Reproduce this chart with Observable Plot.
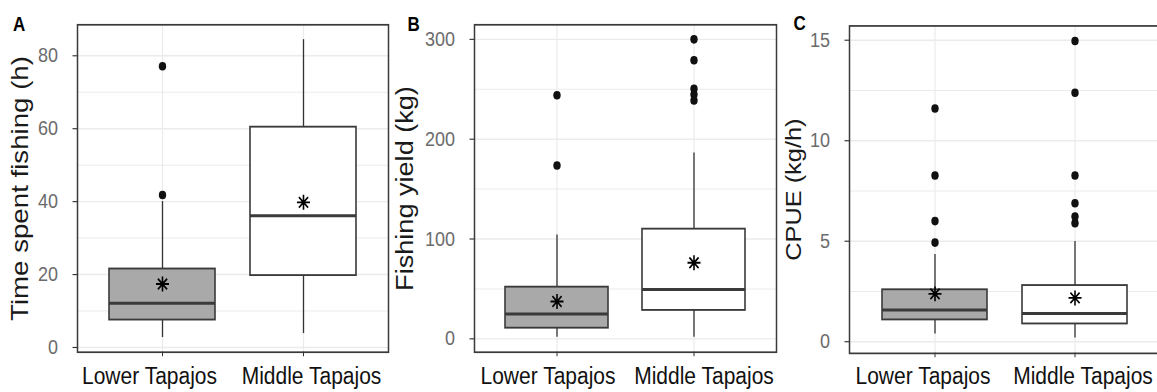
<!DOCTYPE html>
<html>
<head>
<meta charset="utf-8">
<script src="https://cdn.jsdelivr.net/npm/d3@7"></script>
<script src="https://cdn.jsdelivr.net/npm/@observablehq/plot@0.6"></script>
<style>
  html, body { margin: 0; padding: 0; background: #fff; overflow: hidden; }
  #row { display: flex; flex-wrap: nowrap; width: 1160px; }
  #row svg { flex-shrink: 0; display: block; }
</style>
</head>
<body>
<div id="row"></div>
<script>
// ---- data ----
const categories = ["Lower Tapajos", "Middle Tapajos"];

// Panel A: Time spent fishing (h)
const timeQ1 = [7.5, 19.7];
const timeMedian = [12.1, 36.1];
const timeQ3 = [21.5, 60.4];
const timeWhiskerLow = [2.7, 3.8];
const timeWhiskerHigh = [40, 84.4];
const timeMean = [17.4, 39.8];
const timeOutliersLower = [41.8, 77.1];
const timeOutliersMiddle = [];
const timeTicks = [0, 20, 40, 60, 80];
const timeMinorTicks = [10, 30, 50, 70];

// Panel B: Fishing yield (kg)
const yieldQ1 = [10.6, 28.4];
const yieldMedian = [25, 49.4];
const yieldQ3 = [51.7, 109.8];
const yieldWhiskerLow = [1.6, 1.6];
const yieldWhiskerHigh = [104, 186];
const yieldMean = [37.4, 76.2];
const yieldOutliersLower = [173.7, 244];
const yieldOutliersMiddle = [238.8, 244.8, 250.5, 279, 300];
const yieldTicks = [0, 100, 200, 300];
const yieldMinorTicks = [50, 150, 250];

// Panel C: CPUE (kg/h)
const cpueQ1 = [1.08, 0.88];
const cpueMedian = [1.58, 1.41];
const cpueQ3 = [2.58, 2.79];
const cpueWhiskerLow = [0.38, 0.18];
const cpueWhiskerHigh = [4.33, 4.98];
const cpueMean = [2.38, 2.18];
const cpueOutliersLower = [4.93, 6.0, 8.27, 11.6];
const cpueOutliersMiddle = [5.9, 6.23, 6.89, 8.27, 12.39, 14.96];
const cpueTicks = [0, 5, 10, 15];
const cpueMinorTicks = [2.5, 7.5, 12.5];

const boxFills = ["#a9a9a9", "#ffffff"];

// ---- drawing ----
const SCREEN_H = 392;
const H = 340; // internal height; stretched vertically to SCREEN_H

const asterisk = {
  draw(ctx, size) {
    const r = Math.sqrt(size / Math.PI);
    const d = r / Math.SQRT2;
    ctx.moveTo(0, -r); ctx.lineTo(0, r);
    ctx.moveTo(-r, 0); ctx.lineTo(r, 0);
    ctx.moveTo(-d, -d); ctx.lineTo(d, d);
    ctx.moveTo(-d, d); ctx.lineTo(d, -d);
  }
};

function panel(o) {
  const boxes = categories.map((c, i) => ({
    cat: c, q1: o.q1[i], med: o.med[i], q3: o.q3[i],
    lo: o.lo[i], hi: o.hi[i], mean: o.mean[i], fill: boxFills[i]
  }));
  const outliers = [
    ...o.outLower.map(v => ({cat: categories[0], v})),
    ...o.outMiddle.map(v => ({cat: categories[1], v}))
  ];
  const xLabelStyle = {tickSize: 0, tickPadding: o.labelPad, fontSize: 21, fill: "#111", label: null};
  const svg = Plot.plot({
    width: o.width,
    height: H,
    marginLeft: o.marginLeft,
    marginRight: o.marginRight,
    marginTop: o.marginTop,
    marginBottom: o.marginBottom,
    style: {fontFamily: "'Liberation Sans', Arial, sans-serif", background: "#fff"},
    x: {type: "band", domain: categories, paddingInner: 0.25, paddingOuter: 0.225, label: null},
    y: {domain: o.domain, label: null},
    marks: [
      Plot.gridY(o.minor, {stroke: "#ebebeb", strokeOpacity: 1, strokeWidth: 0.9}),
      Plot.gridY(o.ticks, {stroke: "#ebebeb", strokeOpacity: 1, strokeWidth: 1.2}),
      Plot.gridX({stroke: "#ebebeb", strokeOpacity: 1, strokeWidth: 1.2}),
      Plot.ruleX(boxes, {x: "cat", y1: "q3", y2: "hi", stroke: "#333", strokeWidth: 1.3}),
      Plot.ruleX(boxes, {x: "cat", y1: "lo", y2: "q1", stroke: "#333", strokeWidth: 1.3}),
      Plot.barY(boxes, {x: "cat", y1: "q1", y2: "q3", fill: "fill", stroke: "#3a3a3a", strokeWidth: 1.6}),
      Plot.tickY(boxes, {x: "cat", y: "med", stroke: "#3a3a3a", strokeWidth: 2.6}),
      Plot.dot(outliers, {x: "cat", y: "v", r: 3.7, fill: "#111", stroke: null}),
      Plot.dot(boxes, {x: "cat", y: "mean", r: 6.5, symbol: asterisk, stroke: "#000", strokeWidth: 1.6, fill: "none"}),
      Plot.frame({stroke: "#3a3a3a", strokeWidth: 1.5}),
      Plot.axisY(o.ticks, {tickSize: 4.5, tickPadding: 15, fontSize: 18, fill: "#6b6b6b", stroke: "#333", label: null}),
      Plot.axisX({tickSize: 3.9, stroke: "#333", text: null, label: null}),
      Plot.axisX([categories[0]], {...xLabelStyle, dx: o.labelShift[0]}),
      Plot.axisX([categories[1]], {...xLabelStyle, dx: o.labelShift[1]}),
      Plot.text([o.title], {frameAnchor: "left", rotate: -90, textAnchor: "middle", lineAnchor: "top",
        dx: -o.titleOffset, fontSize: o.titleSize, fill: "#1a1a1a"}),
      Plot.text([o.letter], {frameAnchor: "top-left", textAnchor: "start", lineAnchor: "middle",
        dx: o.letterDx, dy: o.letterDy, fontSize: 17, fontWeight: "bold", fill: "#000"})
    ]
  });
  svg.setAttribute("height", SCREEN_H);
  svg.setAttribute("preserveAspectRatio", "none");
  svg.style.height = SCREEN_H + "px";
  svg.style.width = o.width + "px";
  svg.style.maxWidth = "none";
  return svg;
}

const row = document.getElementById("row");
row.append(panel({
  q1: timeQ1, med: timeMedian, q3: timeQ3, lo: timeWhiskerLow, hi: timeWhiskerHigh, mean: timeMean,
  outLower: timeOutliersLower, outMiddle: timeOutliersMiddle,
  domain: [-1.3, 88.5], ticks: timeTicks, minor: timeMinorTicks,
  title: "Time spent fishing (h)", letter: "A", titleSize: 24,
  width: 390, marginLeft: 77, marginRight: 2, marginTop: 21, marginBottom: 35,
  titleOffset: 67, letterDx: -64.5, letterDy: 0, labelShift: [-13, 8], labelPad: 13
}));
row.append(panel({
  q1: yieldQ1, med: yieldMedian, q3: yieldQ3, lo: yieldWhiskerLow, hi: yieldWhiskerHigh, mean: yieldMean,
  outLower: yieldOutliersLower, outMiddle: yieldOutliersMiddle,
  domain: [-13.4, 314.6], ticks: yieldTicks, minor: yieldMinorTicks,
  title: "Fishing yield (kg)", letter: "B", titleSize: 23.5,
  width: 388, marginLeft: 84, marginRight: 2, marginTop: 21, marginBottom: 35,
  titleOffset: 78, letterDx: -67, letterDy: 0, labelShift: [-9, 10], labelPad: 13
}));
row.append(panel({
  q1: cpueQ1, med: cpueMedian, q3: cpueQ3, lo: cpueWhiskerLow, hi: cpueWhiskerHigh, mean: cpueMean,
  outLower: cpueOutliersLower, outMiddle: cpueOutliersMiddle,
  domain: [-0.58, 15.71], ticks: cpueTicks, minor: cpueMinorTicks,
  title: "CPUE (kg/h)", letter: "C", titleSize: 22,
  width: 381, marginLeft: 71, marginRight: 0, marginTop: 22, marginBottom: 34,
  titleOffset: 64, letterDx: -56, letterDy: -1.5, labelShift: [-12, 8], labelPad: 12
}));
</script>
</body>
</html>
